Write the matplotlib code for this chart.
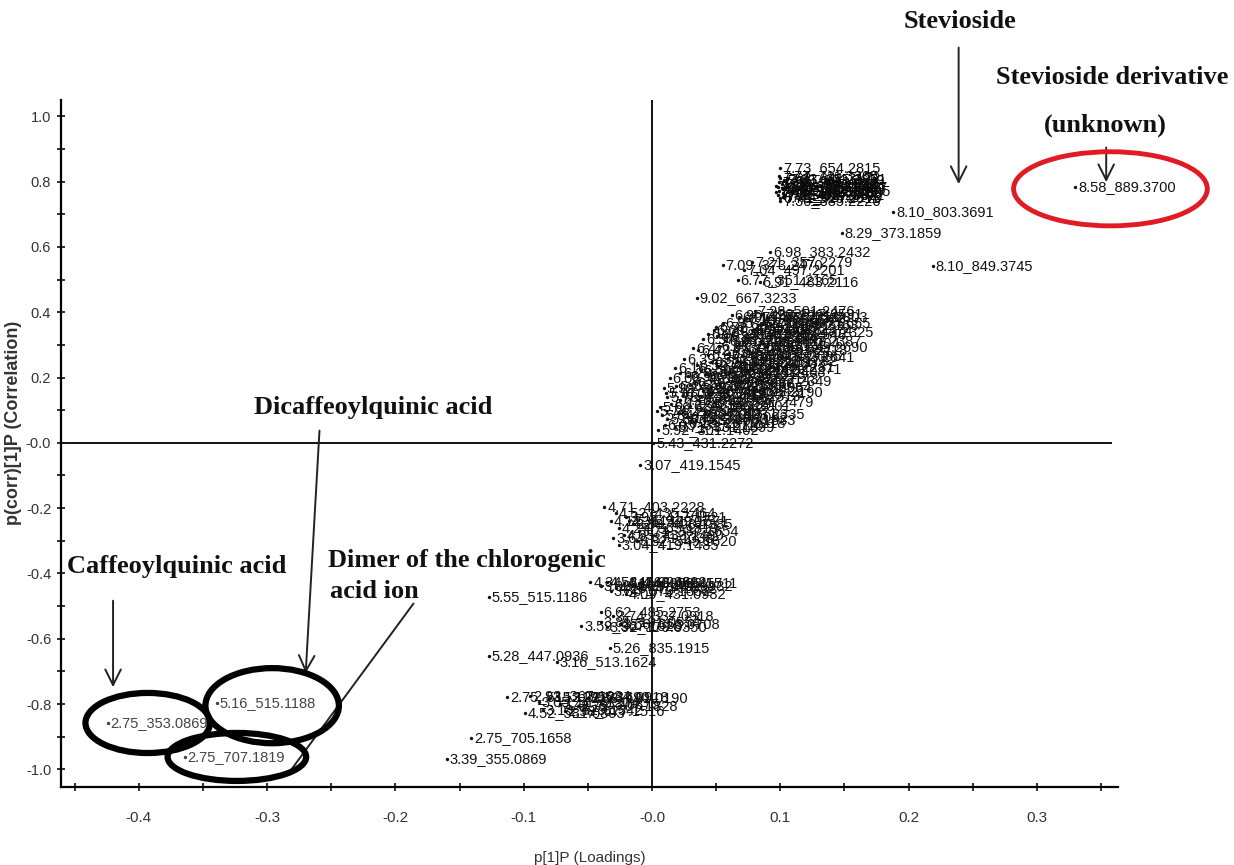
import matplotlib
matplotlib.use("Agg")
import matplotlib.pyplot as plt
from matplotlib.patches import Ellipse
from matplotlib import font_manager

# loading plot data: label = retention time _ m/z, x = p[1]P, y = p(corr)[1]P
steviol_ids = ["7.73_654.2815", "7.62_641.3172", "7.58_965.4241", "7.69_803.3699",
               "7.81_687.3123", "7.44_965.4237", "7.92_641.3171", "7.55_1011.429",
               "7.38_933.4189", "7.71_479.2602", "8.02_819.3658", "6.79_525.2011",
               "7.86_687.3117", "7.49_849.3741", "7.64_787.3731", "7.77_711.3305",
               "7.53_817.3672", "7.95_479.2595", "7.30_335.2220", "7.66_325.1840",
               "7.41_527.2179", "7.83_655.2851"]
steviol_p = [0.100, 0.100, 0.099, 0.103, 0.097, 0.101, 0.105, 0.099, 0.102, 0.098, 0.104,
             0.100, 0.106, 0.097, 0.101, 0.099, 0.103, 0.108, 0.100, 0.098, 0.102, 0.105]
steviol_corr = [0.842, 0.812, 0.798, 0.805, 0.788, 0.780, 0.792, 0.772, 0.765, 0.758, 0.776,
                0.749, 0.784, 0.768, 0.794, 0.818, 0.760, 0.770, 0.742, 0.782, 0.754, 0.808]

high_ids = ["8.58_889.3700", "8.10_803.3691", "8.29_373.1859", "8.10_849.3745",
            "6.98_383.2432", "7.09_373.2470", "7.21_357.2279", "6.77_351.2165",
            "6.91_483.2116", "7.04_497.2201", "9.02_667.3233", "8.14_455.2292",
            "6.83_447.2218"]
high_p = [0.330, 0.188, 0.148, 0.219, 0.092, 0.055, 0.078, 0.067, 0.084, 0.072, 0.035,
          0.073, 0.051]
high_corr = [0.784, 0.708, 0.643, 0.542, 0.585, 0.545, 0.554, 0.499, 0.493, 0.530, 0.444,
             0.383, 0.328]

cloud_ids = ["5.92_301.1402", "6.05_317.2110", "5.71_331.1899", "6.18_287.2218",
             "6.33_365.1833", "5.84_409.2017", "6.41_345.1971", "6.27_503.2335",
             "5.66_299.1864", "6.12_431.2259", "6.55_389.2001", "6.48_521.2479",
             "5.78_349.2156", "6.02_375.1925", "6.36_447.2313", "6.71_405.2190",
             "5.99_329.1740", "6.24_463.2256", "6.59_393.2088", "6.44_337.2064",
             "6.88_417.2349", "6.08_451.2198", "6.30_565.2579", "6.63_359.1915",
             "6.95_481.2403", "7.12_419.2271", "6.16_315.1603", "6.52_481.2306",
             "6.74_495.2460", "7.01_327.1782", "7.26_533.2641", "6.39_381.1992",
             "6.67_437.2177", "6.93_465.2355", "7.18_391.2118", "7.35_549.2690",
             "6.47_353.1765", "6.81_509.2513", "7.06_423.2204", "7.31_461.2387",
             "6.57_371.1839", "6.89_397.2062", "7.14_513.2548", "7.42_443.2325",
             "6.69_479.2331", "6.99_545.2722", "7.23_409.2163", "6.85_427.2148",
             "7.10_385.1977", "7.37_575.2803", "6.96_467.2291", "7.28_501.2476",
             "5.88_313.1760", "6.21_339.2002", "5.74_297.1551", "6.10_361.2067",
             "6.45_413.2225", "6.61_435.2143", "6.35_377.1890", "5.97_323.1789",
             "6.28_455.2367", "6.50_387.2033", "6.78_449.2281", "6.58_471.2412",
             "6.86_401.2095", "6.42_517.2506", "6.66_343.1817", "6.92_489.2374",
             "7.16_537.2655", "6.72_429.2196", "6.97_459.2318", "7.20_517.2531",
             "6.80_363.1946"]
cloud_p = [0.005, 0.010, 0.018, 0.026, 0.034, 0.008, 0.020, 0.041, 0.006, 0.015, 0.030,
           0.048, 0.012, 0.024, 0.038, 0.055, 0.009, 0.019, 0.033, 0.046, 0.062, 0.014,
           0.028, 0.042, 0.057, 0.070, 0.018, 0.035, 0.050, 0.066, 0.080, 0.025, 0.044,
           0.060, 0.075, 0.090, 0.032, 0.052, 0.068, 0.085, 0.040, 0.058, 0.074, 0.095,
           0.048, 0.066, 0.083, 0.055, 0.072, 0.090, 0.062, 0.080,
           0.012, 0.028, 0.004, 0.022, 0.040, 0.052, 0.030, 0.011, 0.022, 0.038, 0.064,
           0.046, 0.070, 0.036, 0.058, 0.078, 0.092, 0.050, 0.068, 0.086, 0.044]
cloud_corr = [0.040, 0.055, 0.048, 0.062, 0.070, 0.085, 0.092, 0.088, 0.110, 0.118, 0.112,
              0.125, 0.140, 0.148, 0.142, 0.155, 0.168, 0.175, 0.182, 0.170, 0.188, 0.198,
              0.205, 0.210, 0.218, 0.225, 0.228, 0.238, 0.245, 0.252, 0.262, 0.258, 0.268,
              0.275, 0.285, 0.292, 0.290, 0.298, 0.305, 0.312, 0.318, 0.325, 0.332, 0.338,
              0.345, 0.352, 0.360, 0.368, 0.375, 0.385, 0.392, 0.405,
              0.072, 0.080, 0.098, 0.130, 0.160, 0.195, 0.178, 0.152, 0.215, 0.222, 0.232,
              0.248, 0.265, 0.285, 0.312, 0.345, 0.368, 0.355, 0.385, 0.395, 0.332]

low_ids = ["5.43_431.2272", "3.07_419.1545",
           "4.71_403.2228", "4.52_435.1464", "3.95_417.1521", "4.12_449.1707",
           "3.88_403.1385", "4.27_565.1819", "3.71_387.1654", "4.05_433.1490",
           "3.64_371.1338", "3.82_549.1620", "3.04_419.1485", "4.36_479.1571",
           "4.34_447.0946", "4.58_463.0882", "4.11_609.1457", "4.46_593.1511",
           "3.98_625.1402", "4.20_477.1032", "4.63_447.0932", "3.86_579.1352",
           "4.09_431.0982", "5.55_515.1186",
           "6.62_485.2753", "3.74_337.0918", "3.59_367.1028", "3.81_191.0554",
           "3.66_353.0708", "3.92_179.0350",
           "5.26_835.1915", "5.28_447.0936", "3.16_513.1624",
           "2.75_515.1195", "2.93_367.1034", "3.12_705.1690", "3.27_337.0918",
           "2.88_191.0190", "3.05_515.1204", "3.41_353.0875", "2.79_707.1828",
           "4.52_581.0803", "3.18_529.1342", "2.98_677.1516",
           "2.75_705.1658", "3.39_355.0869"]
low_p = [0.001, -0.009,
         -0.037, -0.028, -0.020, -0.032, -0.015, -0.026, -0.010, -0.022, -0.030, -0.012,
         -0.026, -0.018,
         -0.048, -0.035, -0.022, -0.010, -0.040, -0.028, -0.015, -0.032, -0.020, -0.127,
         -0.040, -0.030, -0.055, -0.040, -0.025, -0.035,
         -0.033, -0.127, -0.074,
         -0.113, -0.095, -0.080, -0.065, -0.050, -0.088, -0.072, -0.058, -0.099, -0.085,
         -0.068,
         -0.141, -0.160]
low_corr = [-0.002, -0.067,
            -0.196, -0.215, -0.228, -0.240, -0.250, -0.262, -0.270, -0.282, -0.292, -0.300,
            -0.312, -0.238,
            -0.426, -0.425, -0.430, -0.428, -0.440, -0.445, -0.440, -0.455, -0.462, -0.472,
            -0.518, -0.530, -0.560, -0.550, -0.555, -0.565,
            -0.628, -0.652, -0.672,
            -0.778, -0.775, -0.780, -0.778, -0.782, -0.795, -0.800, -0.805, -0.827, -0.818,
            -0.822,
            -0.904, -0.968]

# identified compounds ringed on the plot
marked_ids = ["2.75_353.0869", "5.16_515.1188", "2.75_707.1819"]
marked_p = [-0.424, -0.339, -0.364]
marked_corr = [-0.858, -0.796, -0.962]

y_ticks = [1.0, 0.8, 0.6, 0.4, 0.2, 0.0, -0.2, -0.4, -0.6, -0.8, -1.0]
y_tick_labels = ["1.0", "0.8", "0.6", "0.4", "0.2", "-0.0", "-0.2", "-0.4", "-0.6", "-0.8", "-1.0"]
x_ticks = [-0.4, -0.3, -0.2, -0.1, 0.0, 0.1, 0.2, 0.3]
x_tick_labels = ["-0.4", "-0.3", "-0.2", "-0.1", "-0.0", "0.1", "0.2", "0.3"]

names = [f.name for f in font_manager.fontManager.ttflist]
narrow = "Liberation Sans Narrow" if "Liberation Sans Narrow" in names else "Liberation Sans"
serif = "Liberation Serif"

fig = plt.figure(figsize=(12.34, 8.65), dpi=100)
ax = fig.add_axes([0.0494, 0.0902, 0.8566, 0.7942])
ax.set_xlim(-0.4606, 0.3632)
ax.set_ylim(-1.054, 1.05)

for s in ("top", "right"):
    ax.spines[s].set_visible(False)
for s in ("left", "bottom"):
    ax.spines[s].set_linewidth(1.6)

ax.axhline(0, color="#111111", lw=1.4, xmax=0.993, zorder=1)
ax.axvline(0, color="#111111", lw=1.4, zorder=1)

ax.set_yticks(y_ticks)
ax.set_yticklabels(y_tick_labels)
ax.set_yticks([v / 10 for v in range(-10, 11)], minor=True)
ax.set_xticks(x_ticks)
ax.set_xticklabels(x_tick_labels)
ax.set_xticks([v / 20 for v in range(-9, 8)], minor=True)
ax.tick_params(which="both", direction="inout", length=6, width=1.3, color="#222222")
ax.tick_params(axis="y", pad=4, labelsize=10.5, labelcolor="#333333")
ax.tick_params(axis="x", pad=14, labelsize=11, labelcolor="#333333")
for t in ax.get_xticklabels() + ax.get_yticklabels():
    t.set_family(narrow)

ax.set_ylabel("p(corr)[1]P (Correlation)", family="Liberation Sans", weight="bold",
              fontsize=13, color="#333333")
ax.yaxis.set_label_coords(-0.037, 0.53)
ax.set_xlabel("p[1]P (Loadings)", family=narrow, fontsize=11, color="#333333", labelpad=19)


def plot_group(ids, xs, ys, color="#111111"):
    ax.scatter(xs, ys, s=6, color=color, zorder=3, linewidths=0)
    for name, x, y in zip(ids, xs, ys):
        ax.annotate(name, (x, y), xytext=(2, 0), textcoords="offset points",
                    va="center", ha="left", fontsize=10.5, family=narrow, color=color,
                    zorder=3)


plot_group(steviol_ids, steviol_p, steviol_corr, "#0a0a0a")
plot_group(high_ids, high_p, high_corr)
plot_group(cloud_ids, cloud_p, cloud_corr)
plot_group(low_ids, low_p, low_corr)
plot_group(marked_ids, marked_p, marked_corr, "#444444")

# rings around the identified features
ring_offsets = [(0.031, 0.0, 0.097, 0.184), (0.043, -0.009, 0.104, 0.23), (0.0405, 0.0, 0.108, 0.147)]
for x, y, (dx, dy, w, h) in zip(marked_p, marked_corr, ring_offsets):
    ax.add_patch(Ellipse((x + dx, y + dy), w, h, fill=False, ec="black", lw=4.5, zorder=4,
                         clip_on=False))
ax.add_patch(Ellipse((high_p[0] + 0.0273, high_corr[0] - 0.006), 0.151, 0.227, fill=False,
                     ec="#e01b24", lw=3.5, zorder=4, clip_on=False))

serif_kw = dict(family=serif, weight="bold", fontsize=19, color="#111111",
                annotation_clip=False)
arrow_kw = dict(arrowstyle="->", color="#222222", lw=1.4, mutation_scale=28)

ax.annotate("Stevioside", (0.240, 1.289), ha="center", va="center", **serif_kw)
ax.annotate("", xy=(0.239, high_corr[1] + 0.076), xytext=(0.239, 1.219),
            arrowprops=arrow_kw, annotation_clip=False)
ax.annotate("Stevioside derivative", (0.359, 1.118), ha="center", va="center", **serif_kw)
ax.annotate("(unknown)", (0.353, 0.974), ha="center", va="center", **serif_kw)
ax.annotate("", xy=(0.354, high_corr[0] + 0.006), xytext=(0.354, 0.913),
            arrowprops=arrow_kw, annotation_clip=False)

ax.annotate("Dicaffeoylquinic acid", (-0.2175, 0.107), ha="center", va="center", **serif_kw)
ax.annotate("", xy=(-0.270, -0.714), xytext=(-0.259, 0.046), arrowprops=arrow_kw)
ax.annotate("Caffeoylquinic acid", (-0.456, -0.380), ha="left", va="center", **serif_kw)
ax.annotate("", xy=(-0.420, -0.757), xytext=(-0.420, -0.475), arrowprops=arrow_kw)
ax.annotate("Dimer of the chlorogenic", (-0.2525, -0.361), ha="left", va="center", **serif_kw)
ax.annotate("acid ion", (-0.251, -0.456), ha="left", va="center", **serif_kw)
ax.plot([-0.186, -0.283], [-0.493, -1.011], color="#222222", lw=1.4, zorder=2)

fig.savefig("out.png", dpi=100)
